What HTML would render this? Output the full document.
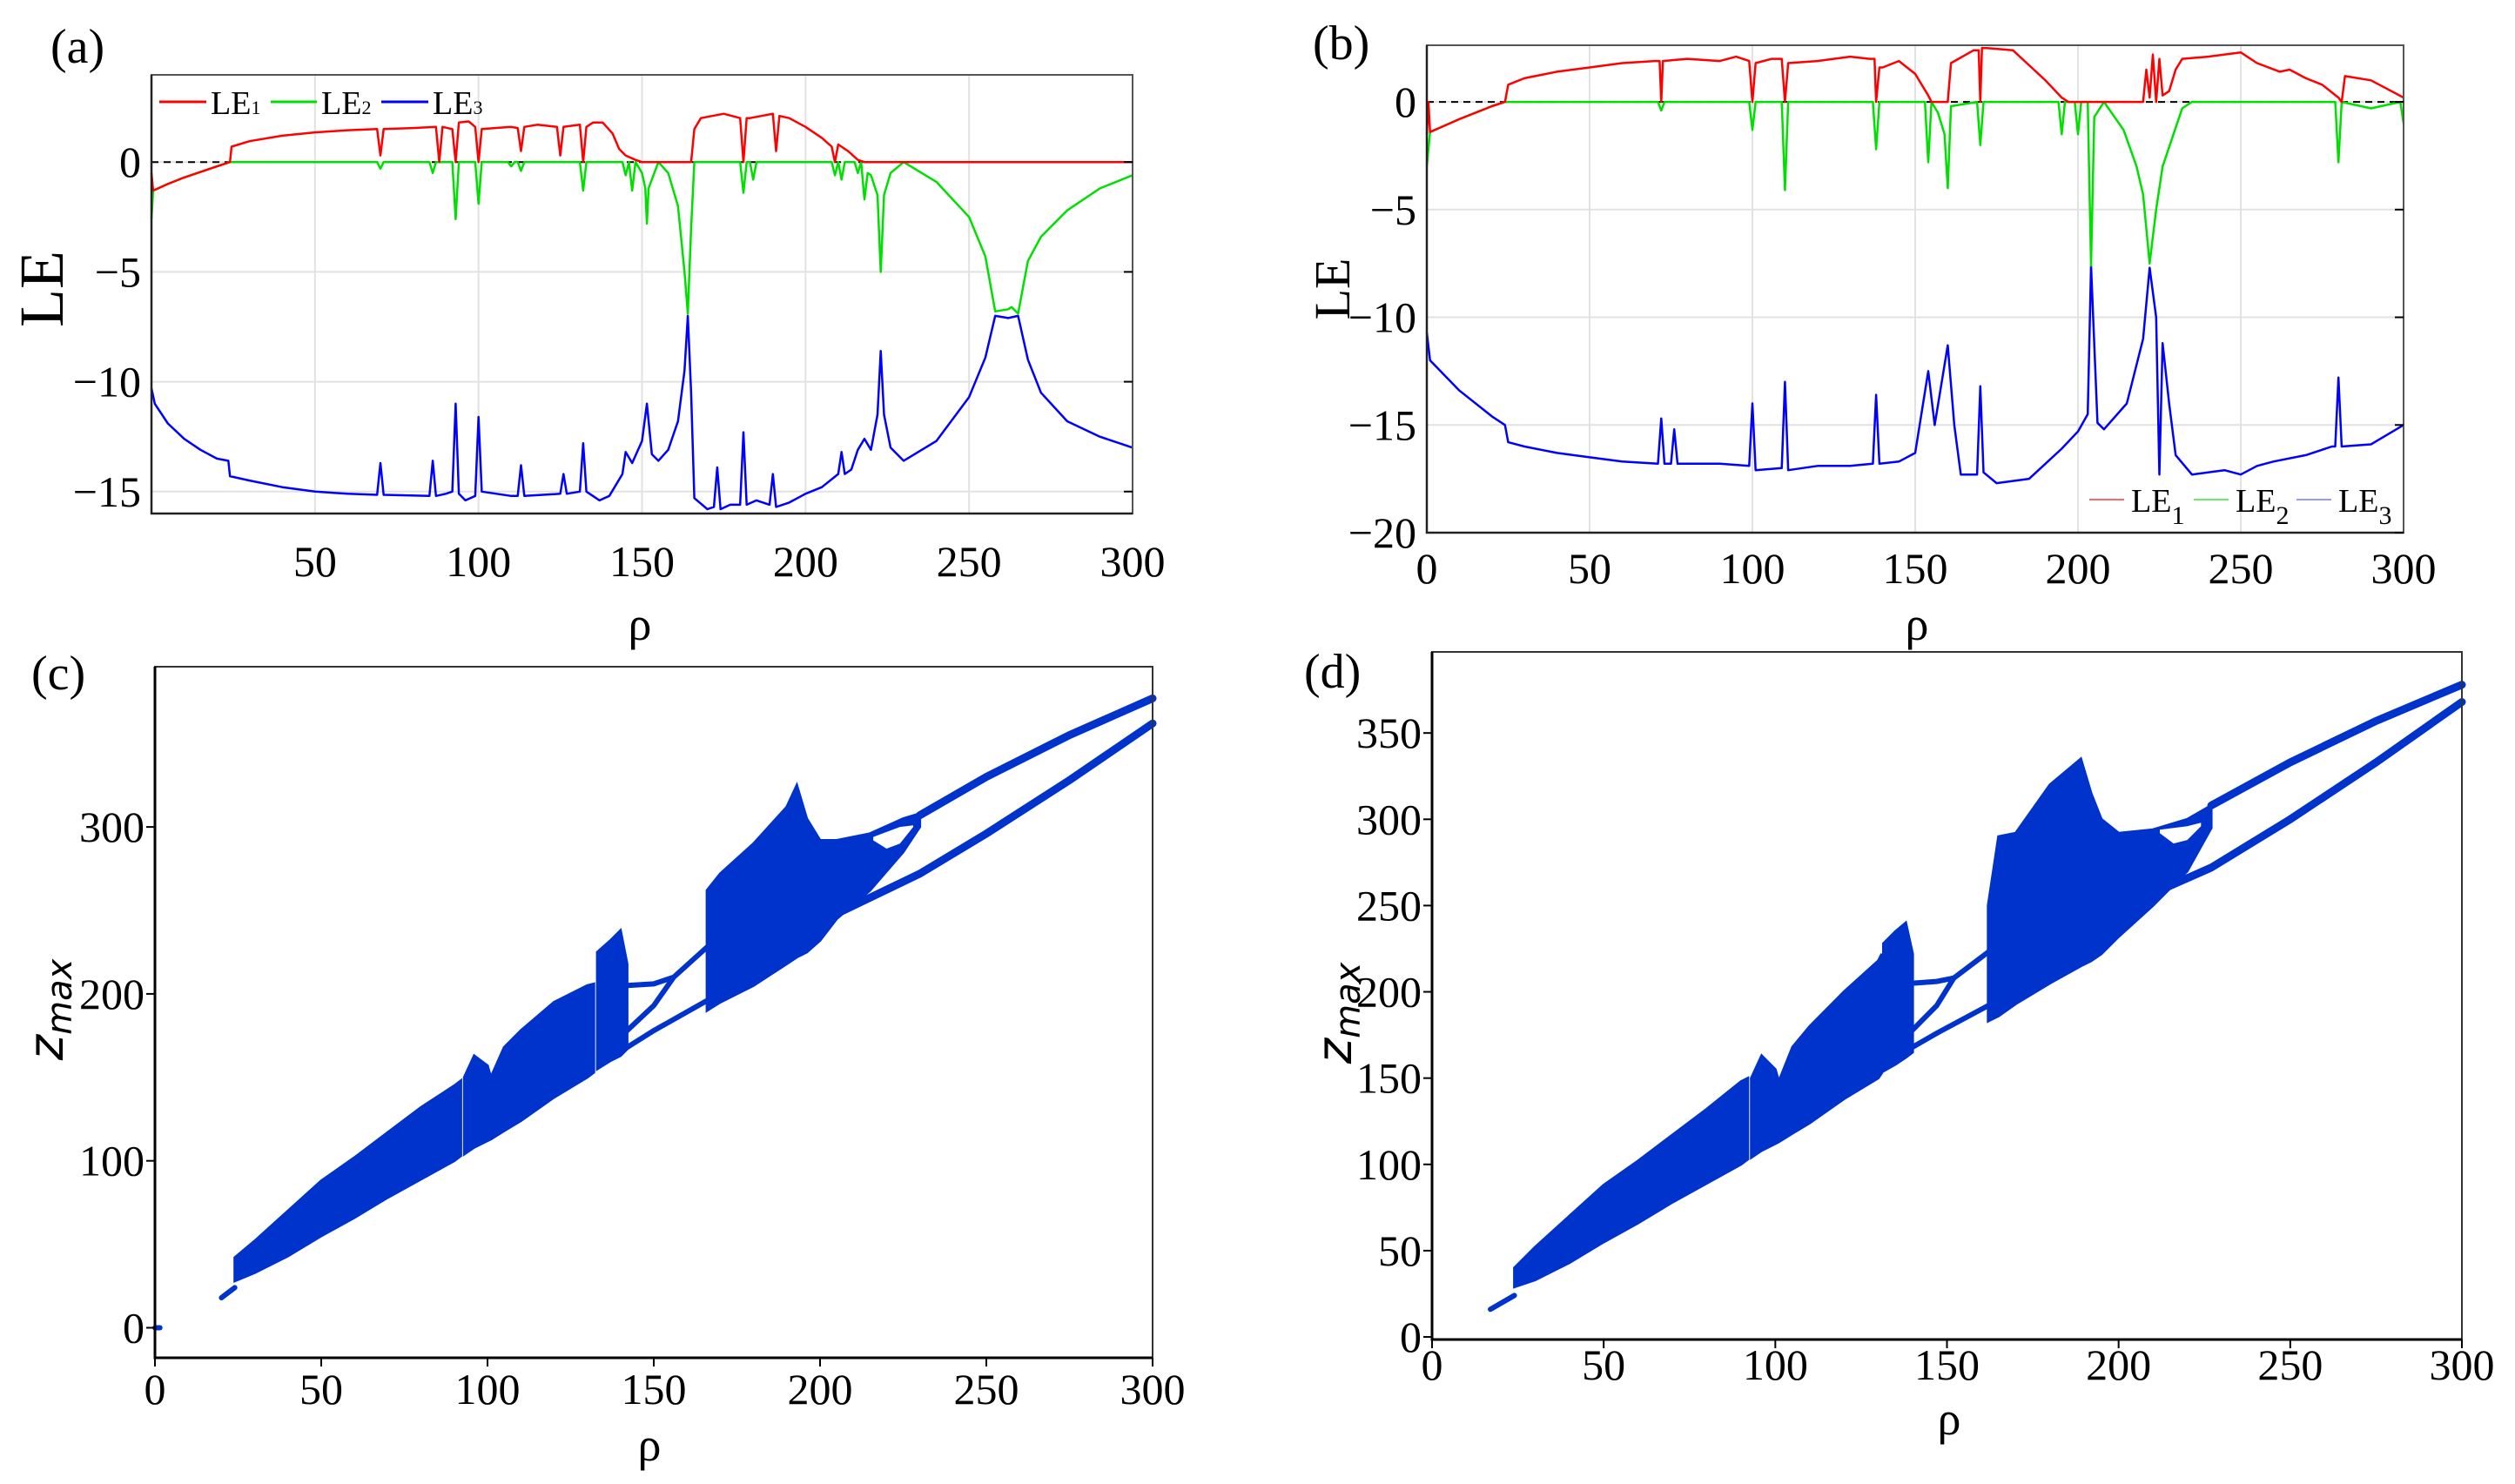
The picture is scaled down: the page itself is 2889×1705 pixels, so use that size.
<!DOCTYPE html>
<html><head><meta charset="utf-8"><style>
html,body{margin:0;padding:0;background:#fff;}
svg{display:block;}
text{font-family:"Liberation Serif",serif;fill:#000;}
</style></head>
<body>
<svg id="fig" width="2889" height="1705" viewBox="0 0 2889 1705" xmlns="http://www.w3.org/2000/svg">
</svg>
<script>
// ---------- DATA ----------
// Panel (a)
const aRho1 = [0,0.5,5,10,15,20,24,24.5,30,40,50,60,69,70,71,80,87,88,89,92,93,94,97,99,100,101,110,112,113,114,118,124,125,126,131,132,133,135,138,141,143,145,148,150,165,166,168,175,180,181,182,183,190,191,192,195,200,205,208,209,210,213,216,218,300];
const aLE1  = [-0.5,-1.3,-1.0,-0.7,-0.45,-0.2,0,0.7,0.95,1.2,1.35,1.45,1.5,0.3,1.5,1.55,1.6,0.0,1.6,1.5,0.0,1.8,1.85,1.6,0.0,1.5,1.6,1.55,0.5,1.6,1.7,1.6,0.3,1.6,1.7,0.0,1.6,1.8,1.8,1.3,0.6,0.3,0.1,0,0,1.5,2.0,2.2,2.0,0.0,2.0,2.0,2.2,0.5,2.1,2.0,1.6,1.1,0.7,0.0,0.8,0.5,0.1,0,0];
const aRho2 = [0,0.5,5,10,15,20,24,69,70,71,85,86,87,92,93,94,99,100,101,109,110,111,112,113,114,131,132,133,144,145,146,147,148,150,151,151.5,152,155,158,161,163,164,165,166,180,181,182,183,184,185,208,209,210,211,212,215,216,217,218,219,220,222,223,224,226,230,240,250,255,258,262,263,265,268,272,280,290,300];
const aLE2  = [-2.6,-1.3,-1.0,-0.7,-0.45,-0.2,0,0,-0.3,0,0,-0.5,0,0,-2.6,0,0,-1.9,0,0,-0.2,0,0,-0.4,0,0,-1.3,0,0,-0.6,0,-1.3,0,-0.5,-1.2,-2.8,-1.2,0,-0.5,-2.0,-5.0,-6.9,-3.0,0,0,-1.4,0,0,-0.8,0,0,-0.6,0,-0.8,0,0,-0.5,0,-1.7,-0.5,-0.6,-1.5,-5.0,-1.5,-0.5,0,-0.9,-2.5,-4.3,-6.8,-6.7,-6.6,-6.9,-4.5,-3.4,-2.2,-1.2,-0.6];
const aRho3 = [0,1,5,10,15,20,23.5,24,30,40,50,60,69,70,71,85,86,87,90,92,93,94,96,99,100,101,110,112,113,114,125,126,127,131,132,133,137,140,144,145,147,150,151.5,153,155,158,161,163,164,165,166,170,172,173,174,177,180,181,182,185,189,190,191,195,200,205,210,211,212,214,216,218,220,222,223,224,226,230,240,250,255,258,262,265,268,272,280,290,300];
const aLE3  = [-10.3,-11,-11.9,-12.6,-13.1,-13.5,-13.6,-14.3,-14.5,-14.8,-15.0,-15.1,-15.15,-13.7,-15.15,-15.2,-13.6,-15.2,-15.1,-15.0,-11.0,-15.1,-15.4,-15.2,-11.6,-15.0,-15.2,-15.2,-13.8,-15.2,-15.1,-14.2,-15.1,-15.0,-12.8,-15.0,-15.4,-15.2,-14.2,-13.2,-13.7,-12.7,-11.0,-13.3,-13.6,-13.1,-11.8,-9.5,-7.0,-10.5,-15.3,-15.8,-15.7,-13.9,-15.8,-15.6,-15.6,-12.3,-15.6,-15.4,-15.6,-14.2,-15.7,-15.5,-15.1,-14.8,-14.2,-13.2,-14.2,-14.0,-13.1,-12.6,-13.1,-11.5,-8.6,-11.5,-13.0,-13.6,-12.7,-10.7,-8.9,-7.0,-7.1,-7.0,-9.0,-10.5,-11.8,-12.5,-13.0];
// Panel (b)
const bRho1 = [0,0.5,1,10,20,24,25,30,40,50,60,70,71.5,72,72.5,80,90,95,99,100,101,106,109,110,111,120,130,136,137.5,138,139,140,145,150,154,155,160,161,168,169.5,170,170.5,172,180,185,190,195,197,220,221,222,223,224,225,226,228,230,232,240,250,255,262,265,270,275,280,281,282,290,295,300];
const bLE1  = [-1.5,0,-1.4,-0.8,-0.2,0,0.8,1.1,1.4,1.6,1.8,1.9,1.9,0,1.9,2.0,1.9,2.1,1.9,0,1.8,2.0,2.0,0,1.8,1.9,2.1,2.0,2.0,0,1.6,1.6,1.9,1.3,0.3,0,0,1.8,2.4,2.4,0,2.5,2.5,2.4,1.7,1.0,0.2,0,0,1.5,0.2,2.2,0,2.0,0.3,0.5,1.5,2.0,2.1,2.3,1.8,1.4,1.5,1.1,0.8,0.2,0,1.2,1.0,0.6,0.2];
const bRho2 = [0,1,10,20,24,71,72,73,99,100,101,109,110,111,137,138,139,153,154,155,157,159,160,161,169,170,171,194,195,196,199,200,201,203,204,205,208,214,218,220,222,224,226,230,232,235,279,280,281,290,299,300];
const bLE2  = [-3.0,-1.4,-0.8,-0.2,0,0,-0.4,0,0,-1.3,0,0,-4.1,0,0,-2.2,0,0,-2.8,0,-0.5,-1.5,-4.0,-0.2,0,-2.0,0,0,-1.5,0,0,-1.5,0,0,-7.6,-0.7,0,-1.3,-3.0,-4.3,-7.5,-5.0,-3.0,-1.2,-0.3,0,0,-2.8,0,-0.3,0,-1.0];
const bRho3 = [0,1,10,20,24,25,30,40,50,60,71,72,73,75,76,77,90,99,100,101,109,110,111,120,130,137,138,139,145,150,154,156,160,162,164,169,170,171,175,185,190,195,200,203,204,206,208,215,220,222,224,225,226,228,230,235,245,250,255,260,270,278,279,280,281,290,300];
const bLE3  = [-10.7,-12,-13.4,-14.6,-15.0,-15.8,-16.0,-16.3,-16.5,-16.7,-16.8,-14.7,-16.8,-16.8,-15.2,-16.8,-16.8,-16.9,-14.0,-17.1,-17.0,-13.0,-17.1,-16.9,-16.9,-16.8,-13.6,-16.8,-16.7,-16.3,-12.5,-15.0,-11.3,-15.0,-17.3,-17.3,-13.2,-17.2,-17.7,-17.5,-16.8,-16.1,-15.3,-14.5,-7.6,-14.9,-15.2,-14.0,-11.0,-7.7,-10.0,-17.3,-11.2,-14.0,-16.4,-17.3,-17.1,-17.3,-16.9,-16.7,-16.4,-16.0,-16.0,-12.8,-16.0,-15.9,-15.0];
// Panel (c) bifurcation bands
const cBandRho  = [[24,30,40,50,60,70,80,90,92],[93,96,100,101,105,110,120,130,132],[133,137,140,142],[166,170,180,190,193,196,200,205,215,225,230]];
const cBandLow  = [[28,33,43,55,66,78,89,100,103],[104,108,112,113,118,124,138,150,153],[155,160,163,167],[190,195,205,218,222,225,232,245,262,285,300]];
const cBandHigh = [[42,52,70,88,102,117,132,145,148],[150,163,157,150,168,178,195,205,206],[225,232,238,218],[262,272,290,312,325,305,292,292,296,305,308]];
const cLineRho  = [[0,1.5],[20,24],[142,150,156],[142,150,156,166],[142,150,166,200],[230,250,275,300],[205,230,250,275,300]];
const cLineZ    = [[0,0],[18,24],[205,206,210],[178,193,210,228],[168,178,196,236],[307,330,355,377],[248,272,296,328,362]];
const cEyeRho = [216,220,224,228];
const cEyeLow = [292,287,290,300];
const cEyeHigh= [294,297,300,301];
// Panel (d)
const dBandRho  = [[24,30,40,50,60,70,80,90,92],[93,96,100,101,105,110,120,130,131],[131.5,135,138,140],[162,165,170,180,189,192,195,200,210,220,227]];
const dBandLow  = [[29,33,43,55,66,78,89,100,103],[104,108,112,113,118,124,138,150,153],[154,158,162,165],[183,186,193,205,215,218,222,232,250,270,295]];
const dBandHigh = [[40,52,70,88,102,117,132,148,150],[150,163,155,148,168,180,200,218,222],[228,235,240,222],[250,290,292,320,335,315,300,292,294,300,308]];
const dLineRho  = [[17,24],[140,147,152],[140,147,152,162],[140,147,162,195],[227,250,275,300],[202,227,250,275,300]];
const dLineZ    = [[16,24],[205,206,208],[178,192,208,223],[168,176,192,232],[308,333,357,378],[250,272,300,333,368]];
const dEyeRho = [212,216,220,224];
const dEyeLow = [292,286,288,296];
const dEyeHigh= [294,295,296,298];

// ---------- HELPERS ----------
const svg = document.getElementById('fig');
const NS = 'http://www.w3.org/2000/svg';
function mk(tag, attrs, parent){
  const e = document.createElementNS(NS, tag);
  for (const k in attrs) e.setAttribute(k, attrs[k]);
  (parent||svg).appendChild(e);
  return e;
}
function scale(d0,d1,r0,r1){ return v => r0 + (v-d0)/(d1-d0)*(r1-r0); }
function txt(x,y,s,size,anchor,parent,extra){
  const t = mk('text', Object.assign({x:x,y:y,'font-size':size,'text-anchor':anchor||'middle'}, extra||{}), parent);
  t.textContent = s;
  return t;
}

function lePanel(opt){
  const g = mk('g', {});
  
  
  const X = scale(0,300,opt.L,opt.R), Y = scale(opt.y0,opt.y1,opt.B,opt.T);
  // grid
  for (const v of [50,100,150,200,250]) {
    const l = mk('line',{x1:X(v),x2:X(v),y1:opt.T,y2:opt.B,stroke:'#e2e2e2','stroke-width':2},g);
    
    
  }
  for (const v of opt.yticks) {
    const l = mk('line',{x1:opt.L,x2:opt.R,y1:Y(v),y2:Y(v),stroke:'#e2e2e2','stroke-width':2},g);
    
    
  }
  // zero dashed
  const z = mk('line',{x1:opt.L,x2:opt.R,y1:Y(0),y2:Y(0),stroke:'#000','stroke-width':2,'stroke-dasharray':'8,6'},g);
  
  
  // series
  const series = [[opt.r3,opt.v3,'#0000ff','le3-line'],[opt.r2,opt.v2,'#00e000','le2-line'],[opt.r1,opt.v1,'#ff0000','le1-line']];
  for (const s of series) {
    const d = s[0].map((r,i)=>(i?'L':'M')+X(r).toFixed(1)+','+Y(s[1][i]).toFixed(1)).join('');
    const p = mk('path',{d:d,fill:'none',stroke:s[2],'stroke-width':2.5,'stroke-linejoin':'round'},g);
    
    
  }
  // frame
  const f = mk('rect',{x:opt.L,y:opt.T,width:opt.R-opt.L,height:opt.B-opt.T,fill:'none',stroke:'#555','stroke-width':2},g);
  
  
  const bl = mk('path',{d:`M${opt.L},${opt.T}V${opt.B}H${opt.R}`,fill:'none',stroke:'#222','stroke-width':2.5},g);
  
  
  // ticks labels
  for (const v of opt.xticks) {
    const t = txt(X(v), opt.xlabY, String(v), 50, 'middle', g);
    
    
  }
  for (const v of opt.yticks) {
    const t = txt(opt.L-12, Y(v)+17, String(v).replace('-','\u2212'), 50, 'end', g);
    
    
    const tk = mk('line',{x1:opt.R-10,x2:opt.R,y1:Y(v),y2:Y(v),stroke:'#000','stroke-width':2},g);
    
    
  }
  return {g,X,Y};
}

function bifPanel(opt){
  const g = mk('g', {});
  
  
  const X = scale(0,300,opt.L,opt.R), Y = scale(opt.y0,opt.y1,opt.B,opt.T);
  const col = '#0033cc';
  opt.bandRho.forEach((rs,k)=>{
    const lo = opt.bandLow[k], hi = opt.bandHigh[k];
    let d = rs.map((r,i)=>(i?'L':'M')+X(r).toFixed(1)+','+Y(hi[i]).toFixed(1)).join('');
    for (let i=rs.length-1;i>=0;i--) d += 'L'+X(rs[i]).toFixed(1)+','+Y(lo[i]).toFixed(1);
    const p = mk('path',{d:d+'Z',fill:col,stroke:col,'stroke-width':3},g);
    
    
  });
  opt.lineRho.forEach((rs,k)=>{
    const zs = opt.lineZ[k];
    const d = rs.map((r,i)=>(i?'L':'M')+X(r).toFixed(1)+','+Y(zs[i]).toFixed(1)).join('');
    const p = mk('path',{d:d,fill:'none',stroke:col,'stroke-width':k>=opt.thick?9:6,'stroke-linecap':'round'},g);
    
    
  });
  {
    const rs = opt.eyeRho;
    let d = rs.map((r,i)=>(i?'L':'M')+X(r).toFixed(1)+','+Y(opt.eyeHigh[i]).toFixed(1)).join('');
    for (let i=rs.length-1;i>=0;i--) d += 'L'+X(rs[i]).toFixed(1)+','+Y(opt.eyeLow[i]).toFixed(1);
    const p = mk('path',{d:d+'Z',fill:'#fff'},g);
    
    
  }
  const f = mk('rect',{x:opt.L,y:opt.T,width:opt.R-opt.L,height:opt.B-opt.T,fill:'none',stroke:'#333','stroke-width':2},g);
  
  
  const bl = mk('path',{d:`M${opt.L},${opt.T}V${opt.B}H${opt.R}`,fill:'none',stroke:'#000','stroke-width':3},g);
  
  
  for (const v of [0,50,100,150,200,250,300]) {
    const t = txt(X(v), opt.xlabY, String(v), 50, 'middle', g);
    
    
    const tk = mk('line',{x1:X(v),x2:X(v),y1:opt.B,y2:opt.B+10,stroke:'#000','stroke-width':2},g);
    
    
  }
  for (const v of opt.yticks) {
    const t = txt(opt.L-12, Y(v)+17, String(v), 50, 'end', g);
    
    
    const tk = mk('line',{x1:opt.L-10,x2:opt.L,y1:Y(v),y2:Y(v),stroke:'#000','stroke-width':2},g);
    
    
  }
  return g;
}

// ---------- PANELS ----------
lePanel({name:'panel-a-lyapunov', L:174,R:1301,T:86,B:590,y0:-16,y1:3.97,
  r1:aRho1,v1:aLE1,r2:aRho2,v2:aLE2,r3:aRho3,v3:aLE3,
  xticks:[50,100,150,200,250,300], yticks:[0,-5,-10,-15], xlabY:662});
lePanel({name:'panel-b-lyapunov', L:1639,R:2761,T:52,B:612,y0:-20,y1:2.63,
  r1:bRho1,v1:bLE1,r2:bRho2,v2:bLE2,r3:bRho3,v3:bLE3,
  xticks:[0,50,100,150,200,250,300], yticks:[0,-5,-10,-15,-20], xlabY:670});
bifPanel({name:'panel-c-bifurcation', L:178,R:1324,T:766,B:1560,y0:-18,y1:396,
  bandRho:cBandRho,bandLow:cBandLow,bandHigh:cBandHigh,lineRho:cLineRho,lineZ:cLineZ,thick:5,
  eyeRho:cEyeRho,eyeLow:cEyeLow,eyeHigh:cEyeHigh,yticks:[0,100,200,300],xlabY:1613});
bifPanel({name:'panel-d-bifurcation', L:1645,R:2828,T:749,B:1539,y0:-1.5,y1:397,
  bandRho:dBandRho,bandLow:dBandLow,bandHigh:dBandHigh,lineRho:dLineRho,lineZ:dLineZ,thick:4,
  eyeRho:dEyeRho,eyeLow:dEyeLow,eyeHigh:dEyeHigh,yticks:[0,50,100,150,200,250,300,350],xlabY:1585});
</script>

<!-- static text: panel labels, axis titles, legends -->
<svg width="0" height="0" style="position:absolute"></svg>
<div style="position:absolute;left:0;top:0;width:2889px;height:1705px;pointer-events:none">
<svg width="2889" height="1705" viewBox="0 0 2889 1705" xmlns="http://www.w3.org/2000/svg">
  <text x="58" y="72" font-size="56">(a)</text>
  <text x="1508" y="68" font-size="56">(b)</text>
  <text x="36" y="792" font-size="56">(c)</text>
  <text x="1498" y="790" font-size="56">(d)</text>

  <text transform="translate(72,332) rotate(-90)" font-size="72" text-anchor="middle">LE</text>
  <text x="735" y="735" font-size="54" text-anchor="middle">ρ</text>
  <text transform="translate(1550,332) rotate(-90)" font-size="58" text-anchor="middle">LE</text>
  <text x="2202" y="735" font-size="54" text-anchor="middle">ρ</text>
  <text transform="translate(72,1160) rotate(-90)" font-size="56" text-anchor="middle" style="font-family:'DejaVu Sans',sans-serif;font-style:italic">z<tspan font-size="40" dy="10">max</tspan></text>
  <text x="746" y="1678" font-size="54" text-anchor="middle">ρ</text>
  <text transform="translate(1552,1164) rotate(-90)" font-size="56" text-anchor="middle" style="font-family:'DejaVu Sans',sans-serif;font-style:italic">z<tspan font-size="40" dy="10">max</tspan></text>
  <text x="2239" y="1648" font-size="54" text-anchor="middle">ρ</text>

  <g>
    <line x1="183" x2="237" y1="117" y2="117" stroke="#ff0000" stroke-width="3"/>
    <text x="242" y="131" font-size="38">LE<tspan font-size="22">1</tspan></text>
    <line x1="311" x2="364" y1="117" y2="117" stroke="#00e000" stroke-width="3"/>
    <text x="369" y="131" font-size="38">LE<tspan font-size="22">2</tspan></text>
    <line x1="438" x2="492" y1="117" y2="117" stroke="#0000ff" stroke-width="3"/>
    <text x="497" y="131" font-size="38">LE<tspan font-size="22">3</tspan></text>
  </g>
  <g>
    <line x1="2400" x2="2440" y1="574" y2="574" stroke="#ff6666" stroke-width="2"/>
    <text x="2448" y="588" font-size="38">LE<tspan font-size="30" dy="14">1</tspan></text>
    <line x1="2520" x2="2560" y1="574" y2="574" stroke="#66ee66" stroke-width="2"/>
    <text x="2568" y="588" font-size="38">LE<tspan font-size="30" dy="14">2</tspan></text>
    <line x1="2638" x2="2678" y1="574" y2="574" stroke="#9999ff" stroke-width="2"/>
    <text x="2686" y="588" font-size="38">LE<tspan font-size="30" dy="14">3</tspan></text>
  </g>
</svg>
</div>
</body></html>
